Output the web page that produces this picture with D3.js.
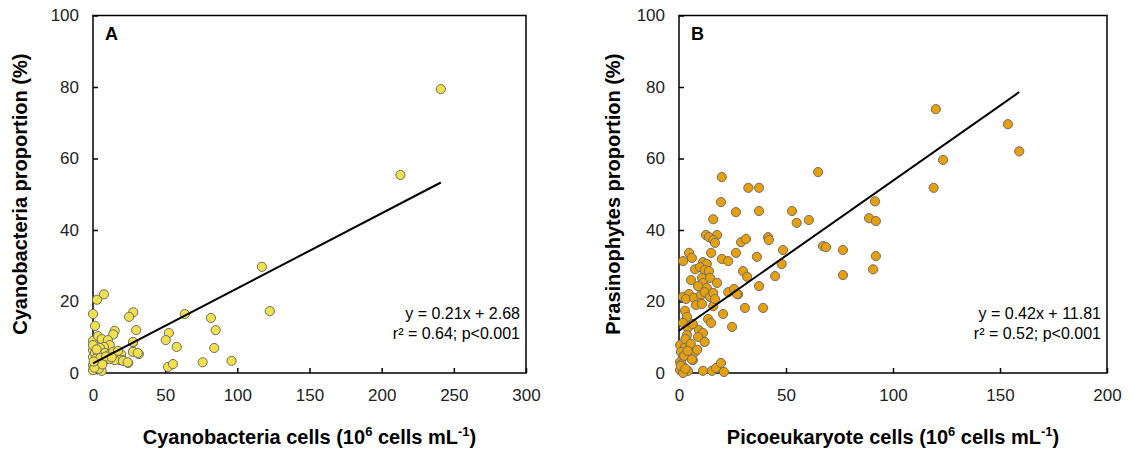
<!DOCTYPE html>
<head>
  <meta charset="utf-8">
  <script src="https://d3js.org/d3.v7.min.js"></script>
  <style>
  body { margin: 0; background: #fff; }
  svg { font-family: "Liberation Sans", Arial, sans-serif; }
  .tick text { font-size: 17px; fill: #222; }
  .tick line { stroke: #000; stroke-width: 1.5px; }
  .title { font-size: 20px; font-weight: bold; fill: #000; }
  .letter { font-size: 18px; font-weight: bold; fill: #000; }
  .eq { font-size: 16px; fill: #000; }
  .fit { fill: none; stroke: #000; stroke-width: 2px; }
  </style>
</head>

<body>
  <script>
    // panel A: cyanobacteria cells vs proportion
    var cyanoX = [241, 213, 117, 122.5, 81.7, 85, 84, 76, 96,
                  7.6, 2.8, 0, 1.4, 27.9, 25, 29.9, 15, 14, 27.8, 52.6, 50.4, 58, 63.6,
                  52, 55.4, 27.8, 31.8, 24.4, 19.4, 20.7,
                  0, 3.5, 6, 10.3, 11.6, 7.6, 4.8, 0, 0, 1.4, 8.3, 11, 14, 17.3, 18.7,
                  15, 20.8, 24, 27.7, 31, 27.7, 1.4, 0, 0, 6, 3.5, 8.3, 11.6, 3.5, 0,
                  2, 5, 9, 13, 4, 1, 6.5, 0.5, 2.5];
    var cyanoY = [79.4, 55.4, 29.7, 17.3, 15.4, 12, 7, 3, 3.4,
                  22, 20.5, 16.5, 13.2, 17, 15.7, 12, 11.8, 10.8, 8.6, 11.2, 9.2, 7.3, 16.5,
                  1.7, 2.5, 5.9, 5.3, 2.8, 5.3, 3.6,
                  9, 10.3, 9.5, 9.2, 7.8, 7.3, 7, 6.4, 4.5, 5.6, 5.6, 5, 5.9, 6.2, 3.6,
                  3.6, 3.4, 3, 5.9, 5.6, 8.7, 3, 2.2, 0.8, 0.6, 2, 3.6, 3.9, 5, 7.8,
                  4, 4.2, 4.6, 4.4, 1.2, 1.5, 2.4, 3.2, 6.6];

    // panel B: picoeukaryote cells vs prasinophytes proportion
    var picoX = [120, 153.7, 159, 123.4, 119, 65, 91.6, 52.8, 55, 60.7, 88.8, 92,
                 48.6, 48, 67.3, 68.7, 76.6, 92, 90.7, 76.6,
                 32.4, 37.4, 26.6, 37.4, 29, 31.3, 41.6, 42, 26.6, 36.4, 29.9, 31.8,
                 44.9, 37.4, 27.6, 30.8, 39.3,
                 20, 19.6, 16, 12.6, 14, 17.8, 16, 16.8, 4.7, 6, 1.9, 15, 20, 23,
                 11.2, 13, 7.5, 9.8, 12, 14, 5.6, 10.7, 14.5, 11.2, 8.9, 13, 17.8,
                 23, 25.7, 27.1, 1.9, 4.7, 3.3, 7, 10.3, 12, 14.5, 16, 9.8, 7.9, 10.7,
                 16, 16.8, 2.8, 3.7, 20.6, 13.6, 15, 24.8, 1.9, 4.2, 6.5, 3.7, 9.3,
                 11.2, 8.9, 12, 0.5, 2.8, 5.1, 7.5, 0.9, 1.9, 6.5, 0.5, 1.9, 0.5, 4.2,
                 11.2, 15.4, 17.3, 19.6, 21, 1.9, 3, 5.5, 8.5, 1.2, 2.4, 4, 6, 0.8, 3];
    var picoY = [73.8, 69.6, 62, 59.6, 51.8, 56.2, 48, 45.3, 42, 42.8, 43.3, 42.5,
                 34.4, 30.5, 35.5, 35.2, 34.4, 32.7, 29, 27.4,
                 51.8, 51.8, 45, 45.3, 36.6, 37.5, 38, 37.2, 33.6, 32.5, 28.5, 26.9,
                 27.1, 24.3, 22, 18.2, 18.2,
                 54.8, 47.8, 43, 38.6, 38, 38.6, 37.2, 36.4, 33.6, 32.2, 31.3, 33.6, 31.9, 31.3,
                 31, 30.5, 29, 29.6, 28.8, 28.5, 26, 26.6, 26.6, 25.2, 24.3, 23.8, 25.2,
                 22.6, 23.5, 22.1, 21.3, 22.1, 20.7, 21, 21.8, 22.6, 21.3, 22.4, 19.6, 19, 19.3,
                 18.7, 20.7, 17.4, 15.7, 16.5, 15.1, 14, 12.9, 14, 12.6, 13.7, 10.6, 12,
                 11.2, 10.1, 8.7, 7.8, 7.3, 7, 5.9, 5.9, 4.5, 3.6, 3.1, 1.7, 0.8, 0.6,
                 0.6, 0.6, 1.4, 2.8, 0.3, 0, 9.5, 8.2, 6.5, 2.5, 4.8, 6.2, 3.8, 2, 1.2];

    var yTicks = [0, 20, 40, 60, 80, 100];
    var xTicksA = [0, 50, 100, 150, 200, 250, 300];
    var xTicksB = [0, 50, 100, 150, 200];

    var panels = [
      {letter: "A", xs: cyanoX, ys: cyanoY, xMax: 300, xTicks: xTicksA,
       slope: 0.21, intercept: 2.68, eq1: "y = 0.21x + 2.68", eq2: "r² = 0.64; p<0.001",
       fill: "#efe04c", left: 93, right: 526,
       yTitle: "Cyanobacteria proportion (%)", xTitle: "Cyanobacteria cells (10", titleX: 20},
      {letter: "B", xs: picoX, ys: picoY, xMax: 200, xTicks: xTicksB,
       slope: 0.42, intercept: 11.81, eq1: "y = 0.42x + 11.81", eq2: "r² = 0.52; p<0.001",
       fill: "#e6a00c", left: 679, right: 1107,
       yTitle: "Prasinophytes proportion (%)", xTitle: "Picoeukaryote cells (10", titleX: 613}
    ];

    var plotTop = 15.5, plotBottom = 373;

    var svg = d3.select("body")
        .append("svg")
        .attr("width", 1134)
        .attr("height", 451);

    panels.forEach(function(p) {
      var x = d3.scaleLinear().domain([0, p.xMax]).range([p.left, p.right]);
      var y = d3.scaleLinear().domain([0, 100]).range([plotBottom, plotTop]);
      var g = svg.append("g");

      // frame
      g.append("rect")
        .attr("x", p.left).attr("y", plotTop)
        .attr("width", p.right - p.left).attr("height", plotBottom - plotTop)
        .attr("fill", "none").attr("stroke", "#000").attr("stroke-width", 1.5);

      // axes with inward ticks
      g.append("g")
        .attr("transform", "translate(0," + plotBottom + ")")
        .call(d3.axisBottom(x).tickValues(p.xTicks).tickSize(-5).tickPadding(16))
        .call(function(a) { a.select(".domain").remove(); });

      g.append("g")
        .attr("transform", "translate(" + p.left + ",0)")
        .call(d3.axisLeft(y).tickValues(yTicks).tickSize(-5).tickPadding(14))
        .call(function(a) { a.select(".domain").remove(); });

      // points
      var pts = p.xs.map(function(d, i) { return [d, p.ys[i]]; });
      g.selectAll("circle.pt")
        .data(pts)
        .enter().append("circle")
        .attr("class", "pt")
        .attr("cx", function(d) { return x(d[0]); })
        .attr("cy", function(d) { return y(d[1]); })
        .attr("r", 4.6)
        .attr("fill", p.fill)
        .attr("stroke", "#6e6e6e")
        .attr("stroke-width", 1);

      // regression line
      var xEnd = d3.max(p.xs);
      var line = d3.line()
        .x(function(d) { return x(d); })
        .y(function(d) { return y(p.slope * d + p.intercept); });
      g.append("path")
        .datum([0, xEnd])
        .attr("class", "fit")
        .attr("d", line);

      // panel letter
      g.append("text")
        .attr("class", "letter")
        .attr("x", p.left + 12).attr("y", plotTop + 24)
        .text(p.letter);

      // equations
      g.append("text").attr("class", "eq")
        .attr("x", p.right - 6).attr("y", 319)
        .attr("text-anchor", "end").text(p.eq1);
      g.append("text").attr("class", "eq")
        .attr("x", p.right - 6).attr("y", 339)
        .attr("text-anchor", "end").text(p.eq2);

      // x title with superscripts
      var xt = g.append("text")
        .attr("class", "title")
        .attr("x", (p.left + p.right) / 2).attr("y", 444)
        .attr("text-anchor", "middle");
      xt.append("tspan").text(p.xTitle);
      xt.append("tspan").attr("dy", -8).attr("font-size", "13px").text("6");
      xt.append("tspan").attr("dy", 8).text(" cells mL");
      xt.append("tspan").attr("dy", -8).attr("font-size", "13px").text("-1");
      xt.append("tspan").attr("dy", 8).text(")");

      // y title
      g.append("text")
        .attr("class", "title")
        .attr("transform", "translate(" + (p.titleX + 7) + "," + ((plotTop + plotBottom) / 2) + ") rotate(-90)")
        .attr("text-anchor", "middle")
        .text(p.yTitle);
    });
  </script>
</body>
